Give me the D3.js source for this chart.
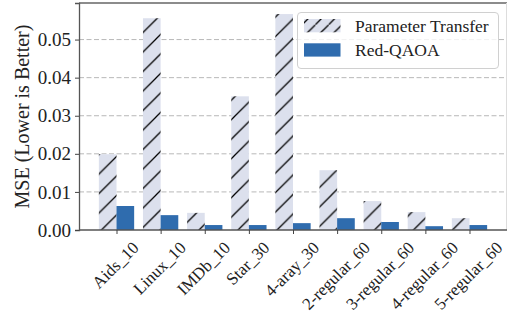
<!DOCTYPE html>
<html>
<head>
<meta charset="utf-8">
<script src="https://cdn.jsdelivr.net/npm/d3@7"></script>
<style>
  body { margin: 0; background: #fff; }
</style>
</head>
<body>
<svg class="chart" width="507" height="317"></svg>
<script>
// data
var categories = ["Aids_10", "Linux_10", "IMDb_10", "Star_30", "4-aray_30",
                  "2-regular_60", "3-regular_60", "4-regular_60", "5-regular_60"];
var paramTransfer = [0.0199, 0.0556, 0.0045, 0.0351, 0.0567, 0.0157, 0.0076, 0.0047, 0.0031];
var redQaoa = [0.0063, 0.0039, 0.0013, 0.0013, 0.0018, 0.0031, 0.0021, 0.0010, 0.0013];
var yTicks = [0, 0.01, 0.02, 0.03, 0.04, 0.05];

var serif = "'Liberation Serif', 'Times New Roman', Times, serif";
var svg = d3.select(".chart");
var pLeft = 79, pRight = 507, pTop = 3, pBottom = 230;

var x = d3.scaleLinear().domain([-0.85, 8.85]).range([pLeft, pRight]);
var y = d3.scaleLinear().domain([0, 0.0596]).range([pBottom, pTop]);
var barW = 0.4;

// hatch pattern
var defs = svg.append("defs");
var T = 19.5;
var pat = defs.append("pattern")
    .attr("id", "hatch")
    .attr("patternUnits", "userSpaceOnUse")
    .attr("width", T).attr("height", T);
pat.append("rect").attr("width", T).attr("height", T).attr("fill", "#dce0ed");
pat.append("path")
    .attr("d", "M0," + T + "L" + T + ",0M-2,2L2,-2M" + (T - 2) + "," + (T + 2) + "L" + (T + 2) + "," + (T - 2))
    .attr("stroke", "#000").attr("stroke-width", 1.25);

var pat2 = defs.append("pattern")
    .attr("id", "hatchLegend")
    .attr("patternUnits", "userSpaceOnUse")
    .attr("x", 304).attr("y", 19)
    .attr("width", 13.3).attr("height", 13.3);
pat2.append("rect").attr("width", 13.3).attr("height", 13.3).attr("fill", "#dce0ed");
pat2.append("path")
    .attr("d", "M0,13.3L13.3,0")
    .attr("stroke", "#000").attr("stroke-width", 1.25);

// grid
svg.append("g").selectAll("line")
    .data(yTicks.slice(1))
  .enter().append("line")
    .attr("x1", pLeft).attr("x2", pRight)
    .attr("y1", function(d) { return y(d); })
    .attr("y2", function(d) { return y(d); })
    .attr("stroke", "#b8b8b8")
    .attr("stroke-width", 1)
    .attr("stroke-dasharray", "5,2.5");

// bars
var g = svg.append("g");
g.selectAll("rect.pt")
    .data(paramTransfer)
  .enter().append("rect")
    .attr("class", "pt")
    .attr("x", function(d, i) { return x(i - barW); })
    .attr("width", function(d, i) { return x(i) - x(i - barW); })
    .attr("y", function(d) { return y(d); })
    .attr("height", function(d) { return pBottom - y(d); })
    .attr("fill", "url(#hatch)");

g.selectAll("rect.red")
    .data(redQaoa)
  .enter().append("rect")
    .attr("class", "red")
    .attr("x", function(d, i) { return x(i); })
    .attr("width", function(d, i) { return x(i + barW) - x(i); })
    .attr("y", function(d) { return y(d); })
    .attr("height", function(d) { return pBottom - y(d); })
    .attr("fill", "#2f6cae");

// spines
svg.append("line").attr("x1", pLeft).attr("x2", pRight).attr("y1", pTop).attr("y2", pTop)
    .attr("stroke", "#666").attr("stroke-width", 1.3);
svg.append("line").attr("x1", pRight - 0.5).attr("x2", pRight - 0.5).attr("y1", pTop).attr("y2", pBottom)
    .attr("stroke", "#ddd").attr("stroke-width", 1);

// y axis
var yAxis = svg.append("g")
    .attr("transform", "translate(" + pLeft + ",0)")
    .call(d3.axisLeft(y).tickValues(yTicks).tickFormat(d3.format(".2f")).tickSize(4).tickPadding(4));
yAxis.attr("font-family", null).attr("font-size", null);
yAxis.select(".domain").attr("stroke", "#555").attr("stroke-width", 1.3);
yAxis.selectAll(".tick line").attr("stroke", "#444");
yAxis.selectAll("text")
    .style("font-family", serif)
    .style("font-size", "19px")
    .attr("fill", "#222");

// x axis
var xAxis = svg.append("g")
    .attr("transform", "translate(0," + pBottom + ")")
    .call(d3.axisBottom(x).tickValues(d3.range(categories.length)).tickSize(4).tickFormat(""));
xAxis.select(".domain").attr("stroke", "#555").attr("stroke-width", 1.3).attr("d", "M" + pLeft + ",0H" + pRight);
xAxis.selectAll(".tick line").attr("stroke", "#444");

// rotated x labels, bbox centred under each tick
var fs = 17;
svg.append("g").selectAll("text")
    .data(categories)
  .enter().append("text")
    .style("font-family", serif)
    .style("font-size", fs + "px")
    .attr("fill", "#222")
    .attr("text-anchor", "middle")
    .attr("dominant-baseline", "central")
    .text(function(d) { return d; })
    .each(function(d, i) {
      var w = this.getComputedTextLength();
      var cx = x(i) - 1;
      var cy = pBottom + 10 + (w + fs * 0.8) * Math.SQRT1_2 / 2;
      d3.select(this).attr("transform", "translate(" + cx + "," + cy + ") rotate(-45)");
    });

// y label
svg.append("text")
    .attr("transform", "translate(22," + ((pTop + pBottom) / 2) + ") rotate(-90)")
    .style("font-family", serif)
    .style("font-size", "20px")
    .attr("text-anchor", "middle")
    .attr("dominant-baseline", "central")
    .attr("fill", "#222")
    .text("MSE (Lower is Better)");

// legend
var leg = svg.append("g");
leg.append("rect")
    .attr("x", 297.5).attr("y", 12.5).attr("width", 201).attr("height", 56)
    .attr("rx", 3.5)
    .attr("fill", "#fff").attr("fill-opacity", 0.8)
    .attr("stroke", "#d0d0d0");
var legendItems = [
  { label: "Parameter Transfer", fill: "url(#hatchLegend)" },
  { label: "Red-QAOA", fill: "#2f6cae" }
];
var li = leg.selectAll("g.item")
    .data(legendItems)
  .enter().append("g")
    .attr("class", "item")
    .attr("transform", function(d, i) { return "translate(304," + (19 + i * 24.3) + ")"; });
li.append("rect")
    .attr("width", 36.5).attr("height", 13.3)
    .attr("fill", function(d) { return d.fill; });
li.append("text")
    .attr("x", 51).attr("y", 6.7)
    .style("font-family", serif)
    .style("font-size", "17.5px")
    .attr("dominant-baseline", "central")
    .attr("fill", "#222")
    .text(function(d) { return d.label; });
</script>
</body>
</html>
